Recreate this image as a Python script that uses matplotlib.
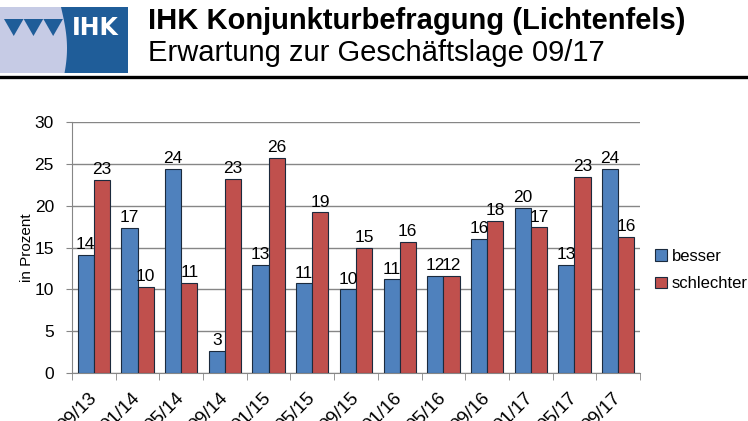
import matplotlib.pyplot as plt
import matplotlib.patches as mpatches
from matplotlib.lines import Line2D
import numpy as np

plt.rcParams['font.family'] = ['Liberation Sans', 'DejaVu Sans']

periods = ['09/13', '01/14', '05/14', '09/14', '01/15', '05/15', '09/15',
           '01/16', '05/16', '09/16', '01/17', '05/17', '09/17']
besser = [14.1, 17.3, 24.4, 2.6, 12.9, 10.7, 10.0, 11.2, 11.6, 16.0, 19.7, 12.9, 24.4]
schlechter = [23.1, 10.3, 10.8, 23.2, 25.7, 19.2, 15.0, 15.7, 11.6, 18.2, 17.4, 23.4, 16.3]

W, H = 748, 421
fig = plt.figure(figsize=(W / 100, H / 100), dpi=100)

# header: logo, titles, rule
lg = fig.add_axes([0, 1 - 73 / H, 128 / W, 66 / H])
lg.set_xlim(0, 128)
lg.set_ylim(73, 7)
lg.axis('off')
lg.add_patch(mpatches.Rectangle((0, 7), 128, 66, color='#1f5d99', lw=0))
yy = np.linspace(7, 73, 30)
xx = 61 + 6 * np.sin((yy - 7) / 66 * np.pi * 0.8)
lav = np.vstack([[0, 7], np.column_stack([xx, yy]), [0, 73]])
lg.add_patch(mpatches.Polygon(lav, closed=True, color='#c6cbe5', lw=0))
for k in range(3):
    x0 = 4 + k * 19.7
    lg.add_patch(mpatches.Polygon([[x0, 19], [x0 + 19.5, 19], [x0 + 9.75, 36]],
                                  closed=True, color='#1f5d99', lw=0))
lg.text(95, 28, 'IHK', color='white', fontsize=17, fontweight='bold',
        ha='center', va='center', family='Liberation Sans Narrow')

fig.text(148 / W, 1 - 21 / H, 'IHK Konjunkturbefragung (Lichtenfels)',
         fontsize=21, fontweight='bold', va='center', ha='left')
fig.text(148 / W, 1 - 53 / H, 'Erwartung zur Geschäftslage 09/17',
         fontsize=21, va='center', ha='left')
fig.add_artist(Line2D([0, 1], [1 - 77 / H, 1 - 77 / H], transform=fig.transFigure,
                      color='black', lw=2.4))

# chart
ax = fig.add_axes([72 / W, 1 - 373 / H, 568 / W, 251 / H])
x = np.arange(len(periods))
bw = 0.37
grey = '#868686'
b1 = ax.bar(x - bw / 2, besser, bw, color='#4f81bd', edgecolor='#1b2a3d',
            lw=0.8, label='besser', zorder=3)
b2 = ax.bar(x + bw / 2, schlechter, bw, color='#c0504d', edgecolor='#1b2a3d',
            lw=0.8, label='schlechter', zorder=3)
ax.bar_label(b1, labels=[str(round(v)) for v in besser], padding=2, fontsize=12.5)
ax.bar_label(b2, labels=[str(round(v)) for v in schlechter], padding=2, fontsize=12.5)

ax.set_xlim(-0.5, len(periods) - 0.5)
ax.set_ylim(0, 30)
ax.set_yticks(range(0, 31, 5))
ax.yaxis.grid(True, color=grey, lw=1, zorder=0)
ax.set_xticks(x)
ax.set_xticklabels(periods, rotation=45, ha='right', va='center',
                   rotation_mode='anchor', fontsize=13.5)
ax.set_xticks(np.arange(-0.5, len(periods), 1), minor=True)
ax.tick_params(axis='x', which='major', length=0, pad=16)
ax.tick_params(axis='x', which='minor', length=5, color=grey, direction='out')
ax.tick_params(axis='y', length=4, color=grey, labelsize=12.5, pad=9)
for s in ['top', 'right']:
    ax.spines[s].set_visible(False)
for s in ['left', 'bottom']:
    ax.spines[s].set_color(grey)
ax.set_ylabel('in Prozent', fontsize=11, labelpad=0)

ax.legend(loc='center left', bbox_to_anchor=(1.015, 0.41), frameon=False,
          fontsize=12, handlelength=0.7, handleheight=0.7, handletextpad=0.3,
          labelspacing=0.75, borderaxespad=0)

fig.savefig('out.png', dpi=100)
